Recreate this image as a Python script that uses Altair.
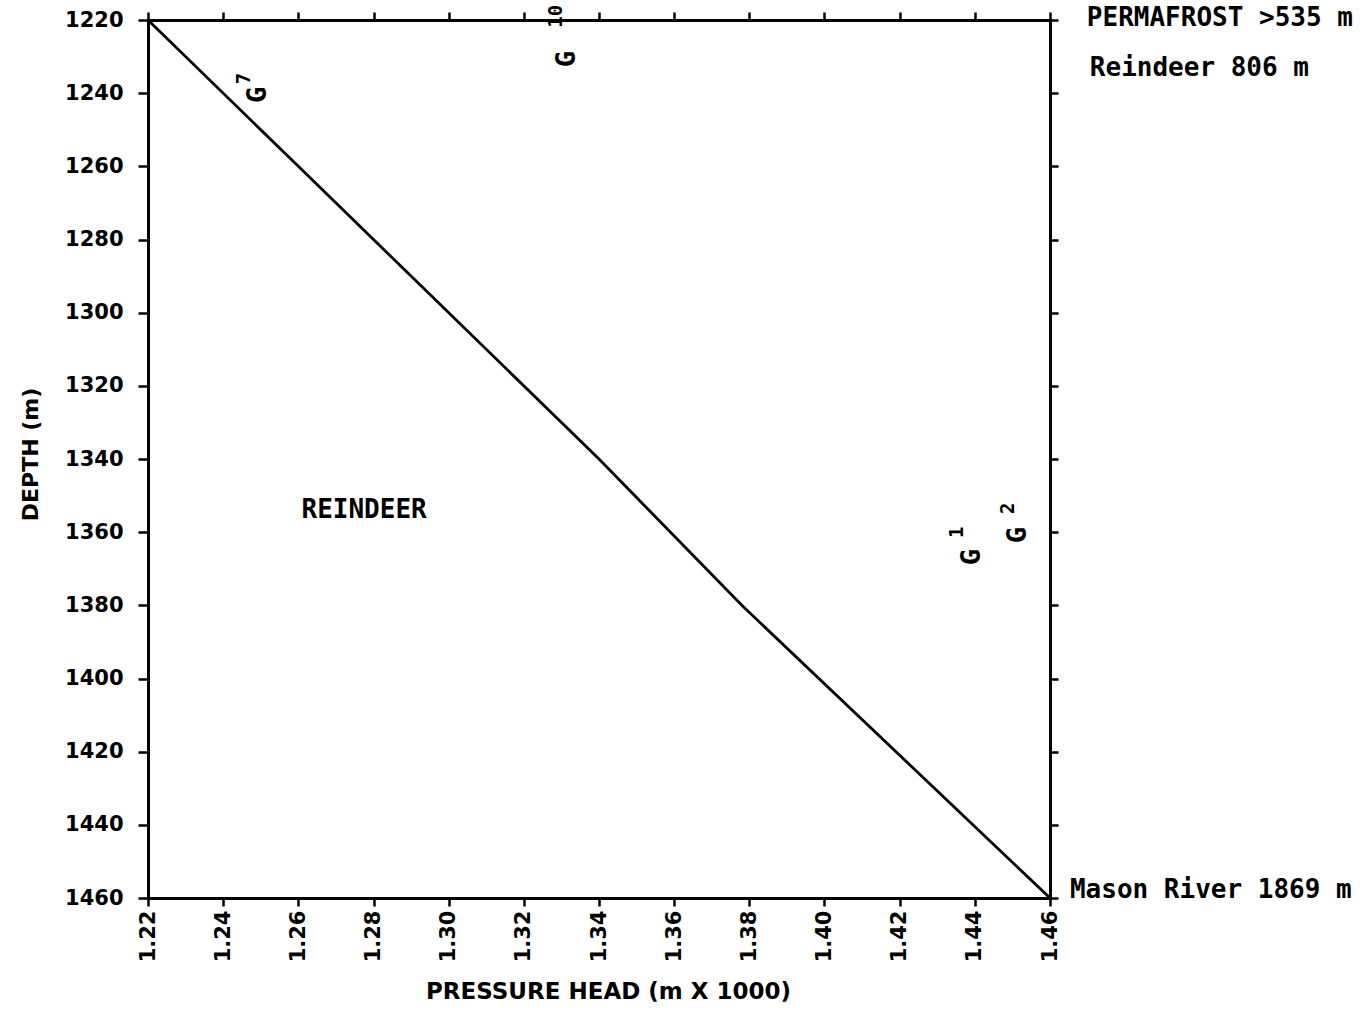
import altair as alt
import pandas as pd

# Line (pressure head, x1000 m) vs depth (m)
line_p = [1.22, 1.26, 1.28, 1.34, 1.378, 1.46]
line_d = [1220, 1260, 1280, 1340, 1380, 1460]

# Well markers "G" with superscript numbers
g_x = [1.2493, 1.3315, 1.4392, 1.4514]
g_y = [1240.5, 1230.7, 1366.8, 1360.8]
sup_text = ["7", "10", "1", "2"]
sup_x = [1.2455, 1.3285, 1.4352, 1.4488]
sup_y = [1236.0, 1219.0, 1360.0, 1353.5]

# Annotations to the right of the plot
ann_text = ["PERMAFROST >535 m", "Reindeer 806 m", "Mason River 1869 m"]
ann_x = [1.4698, 1.4706, 1.4653]
ann_y = [1219.5, 1233.1, 1457.8]

label_text = ["REINDEER"]
label_x = [1.2775]
label_y = [1353.9]

x_ticks = [1.22, 1.24, 1.26, 1.28, 1.30, 1.32, 1.34, 1.36, 1.38, 1.40, 1.42, 1.44, 1.46]
y_ticks = [1220, 1240, 1260, 1280, 1300, 1320, 1340, 1360, 1380, 1400, 1420, 1440, 1460]

line_df = pd.DataFrame({"p": line_p, "d": line_d})
g_df = pd.DataFrame({"p": g_x, "d": g_y, "t": ["G"] * len(g_x)})
sup_df = pd.DataFrame({"p": sup_x, "d": sup_y, "t": sup_text})
ann_df = pd.DataFrame({"p": ann_x, "d": ann_y, "t": ann_text})
lab_df = pd.DataFrame({"p": label_x, "d": label_y, "t": label_text})

xs = alt.Scale(domain=[1.22, 1.46], nice=False, zero=False)
ys = alt.Scale(domain=[1220, 1460], nice=False, zero=False, reverse=True)

FONT = "DejaVu Sans"
MONO = "DejaVu Sans Mono"

bottom_axis = alt.Axis(
    orient="bottom", values=x_ticks, format=".2f", labelAngle=270,
    labelFont=FONT, labelFontWeight="bold", labelFontSize=21, labelColor="black",
    labelPadding=4, tickSize=8, tickWidth=2.5, tickColor="black",
    domainColor="black", domainWidth=3, grid=False, labelFlush=False,
    title="PRESSURE HEAD (m X 1000)", titleFont=FONT, titleFontWeight="bold",
    titleFontSize=23, titleColor="black", titleX=460, titleY=93,
    titleAlign="center", titleBaseline="middle",
)
left_axis = alt.Axis(
    orient="left", values=y_ticks, format="d",
    labelFont=FONT, labelFontWeight="bold", labelFontSize=21, labelColor="black",
    labelPadding=15, tickSize=10, tickWidth=2.5, tickColor="black",
    domainColor="black", domainWidth=3, grid=False, labelFlush=False,
    title="DEPTH (m)", titleFont=FONT, titleFontWeight="bold", titleFontSize=22,
    titleColor="black", titleAngle=270, titleX=-118, titleY=434,
    titleAlign="center", titleBaseline="middle",
)
top_axis = alt.Axis(
    orient="top", values=x_ticks, labels=False, title=None, tickSize=8,
    tickWidth=2.5, tickColor="black", domainColor="black", domainWidth=3, grid=False,
)
right_axis = alt.Axis(
    orient="right", values=y_ticks, labels=False, title=None, tickSize=8,
    tickWidth=2.5, tickColor="black", domainColor="black", domainWidth=3, grid=False,
)

line = alt.Chart(line_df).mark_line(color="black", strokeWidth=2.8).encode(
    x=alt.X("p:Q", scale=xs, axis=bottom_axis),
    y=alt.Y("d:Q", scale=ys, axis=left_axis),
)
frame = alt.Chart(line_df).mark_line(opacity=0).encode(
    x=alt.X("p:Q", scale=xs, axis=top_axis),
    y=alt.Y("d:Q", scale=ys, axis=right_axis),
)


def text_layer(df, size, angle=0, align="center", font=MONO):
    return alt.Chart(df).mark_text(
        font=font, fontWeight="bold", fontSize=size, angle=angle, align=align,
        baseline="middle", color="black",
    ).encode(
        x=alt.X("p:Q", scale=xs, axis=None),
        y=alt.Y("d:Q", scale=ys, axis=None),
        text="t:N",
    )


g_marks = text_layer(g_df, 27, angle=270)
sup_marks = text_layer(sup_df, 19, angle=270)
ann_marks = text_layer(ann_df, 26, align="left")
lab_marks = text_layer(lab_df, 26)

chart = alt.layer(line, frame, g_marks, sup_marks, ann_marks, lab_marks).resolve_axis(
    x="independent", y="independent"
).properties(
    width=902, height=878,
    autosize=alt.AutoSizeParams(type="none"),
    padding={"left": 148, "top": 20, "right": 318, "bottom": 111},
    background="white",
).configure_view(stroke=None)

chart.save("out.html", embed_options={"renderer": "svg", "actions": False})
